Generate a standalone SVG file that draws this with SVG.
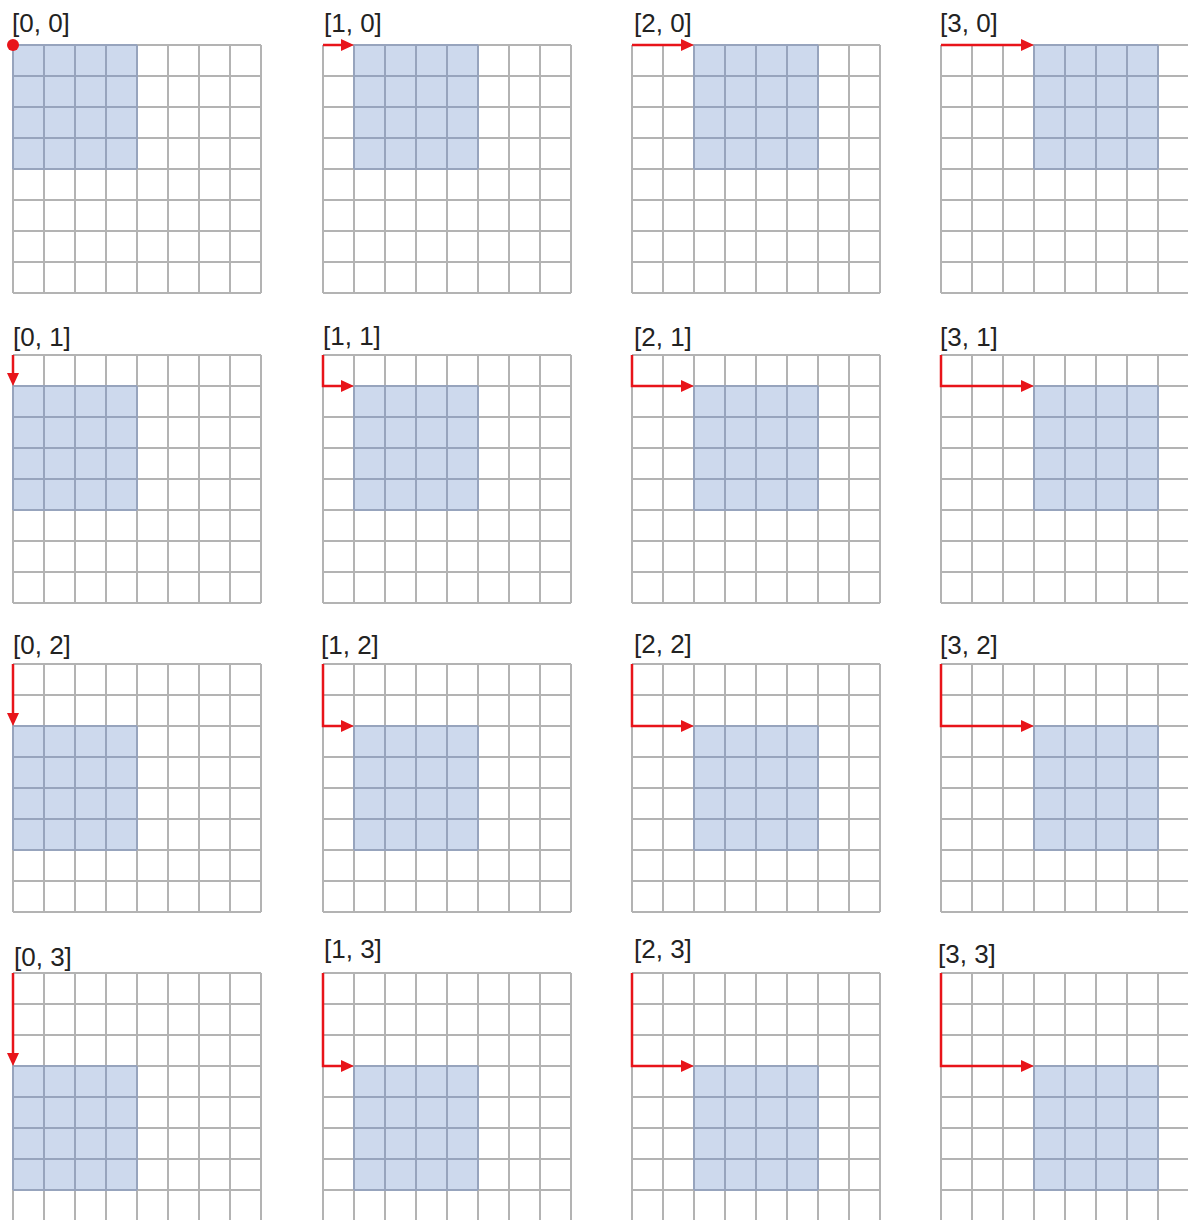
<svg xmlns="http://www.w3.org/2000/svg" xmlns:xlink="http://www.w3.org/1999/xlink" width="1188" height="1220" viewBox="0 0 1188 1220">
<style>
.grid{fill:none;stroke:#b3b3b3;stroke-width:2}
.bfill{fill:#cdd9ed}
.blines{fill:none;stroke:#97a4bd;stroke-width:2}
.lbl{font-family:"Liberation Sans",Arial,sans-serif;font-size:26px;fill:#222}
.arr{fill:none;stroke:#e8141a;stroke-width:2.5;marker-end:url(#ah)}
</style>
<defs>
<marker id="ah" markerUnits="userSpaceOnUse" markerWidth="13" markerHeight="12" refX="6" refY="6" orient="auto">
<path d="M0,0 L13,6 L0,12 z" fill="#e8141a"/>
</marker>
<path id="g" class="grid" d="M0 0H248M0 31H248M0 62H248M0 93H248M0 124H248M0 155H248M0 186H248M0 217H248M0 248H248M0 0V248M31 0V248M62 0V248M93 0V248M124 0V248M155 0V248M186 0V248M217 0V248M248 0V248"/>
<rect id="bf" class="bfill" x="0" y="0" width="124" height="124"/>
<path id="bl" class="blines" d="M0 0H124M0 31H124M0 62H124M0 93H124M0 124H124M0 0V124M31 0V124M62 0V124M93 0V124M124 0V124"/>
</defs>
<rect width="1188" height="1220" fill="#fff"/>

<g id="p00" transform="translate(13,45)"><use xlink:href="#bf" x="0" y="0"/><use xlink:href="#g"/><use xlink:href="#bl" x="0" y="0"/></g>
<g id="p10" transform="translate(323,45)"><use xlink:href="#bf" x="31" y="0"/><use xlink:href="#g"/><use xlink:href="#bl" x="31" y="0"/></g>
<g id="p20" transform="translate(632,45)"><use xlink:href="#bf" x="62" y="0"/><use xlink:href="#g"/><use xlink:href="#bl" x="62" y="0"/></g>
<g id="p30" transform="translate(941,45)"><use xlink:href="#bf" x="93" y="0"/><use xlink:href="#g"/><use xlink:href="#bl" x="93" y="0"/></g>

<g id="p01" transform="translate(13,355)"><use xlink:href="#bf" x="0" y="31"/><use xlink:href="#g"/><use xlink:href="#bl" x="0" y="31"/></g>
<g id="p11" transform="translate(323,355)"><use xlink:href="#bf" x="31" y="31"/><use xlink:href="#g"/><use xlink:href="#bl" x="31" y="31"/></g>
<g id="p21" transform="translate(632,355)"><use xlink:href="#bf" x="62" y="31"/><use xlink:href="#g"/><use xlink:href="#bl" x="62" y="31"/></g>
<g id="p31" transform="translate(941,355)"><use xlink:href="#bf" x="93" y="31"/><use xlink:href="#g"/><use xlink:href="#bl" x="93" y="31"/></g>

<g id="p02" transform="translate(13,664)"><use xlink:href="#bf" x="0" y="62"/><use xlink:href="#g"/><use xlink:href="#bl" x="0" y="62"/></g>
<g id="p12" transform="translate(323,664)"><use xlink:href="#bf" x="31" y="62"/><use xlink:href="#g"/><use xlink:href="#bl" x="31" y="62"/></g>
<g id="p22" transform="translate(632,664)"><use xlink:href="#bf" x="62" y="62"/><use xlink:href="#g"/><use xlink:href="#bl" x="62" y="62"/></g>
<g id="p32" transform="translate(941,664)"><use xlink:href="#bf" x="93" y="62"/><use xlink:href="#g"/><use xlink:href="#bl" x="93" y="62"/></g>

<g id="p03" transform="translate(13,973)"><use xlink:href="#bf" x="0" y="93"/><use xlink:href="#g"/><use xlink:href="#bl" x="0" y="93"/></g>
<g id="p13" transform="translate(323,973)"><use xlink:href="#bf" x="31" y="93"/><use xlink:href="#g"/><use xlink:href="#bl" x="31" y="93"/></g>
<g id="p23" transform="translate(632,973)"><use xlink:href="#bf" x="62" y="93"/><use xlink:href="#g"/><use xlink:href="#bl" x="62" y="93"/></g>
<g id="p33" transform="translate(941,973)"><use xlink:href="#bf" x="93" y="93"/><use xlink:href="#g"/><use xlink:href="#bl" x="93" y="93"/></g>

<g id="labels">
<text class="lbl" x="12" y="32">[0, 0]</text>
<text class="lbl" x="324" y="32">[1, 0]</text>
<text class="lbl" x="634" y="32">[2, 0]</text>
<text class="lbl" x="940" y="32">[3, 0]</text>
<text class="lbl" x="13" y="346">[0, 1]</text>
<text class="lbl" x="323" y="345">[1, 1]</text>
<text class="lbl" x="634" y="346">[2, 1]</text>
<text class="lbl" x="940" y="346">[3, 1]</text>
<text class="lbl" x="13" y="654">[0, 2]</text>
<text class="lbl" x="321" y="654">[1, 2]</text>
<text class="lbl" x="634" y="653">[2, 2]</text>
<text class="lbl" x="940" y="654">[3, 2]</text>
<text class="lbl" x="14" y="966">[0, 3]</text>
<text class="lbl" x="324" y="958">[1, 3]</text>
<text class="lbl" x="634" y="958">[2, 3]</text>
<text class="lbl" x="938" y="963">[3, 3]</text>
</g>

<g id="connectors">
<circle cx="13" cy="45" r="6" fill="#e8141a"/>
<polyline class="arr" points="323,45 347,45"/>
<polyline class="arr" points="632,45 687,45"/>
<polyline class="arr" points="941,45 1027,45"/>
<polyline class="arr" points="13,355 13,379"/>
<polyline class="arr" points="323,355 323,386 347,386"/>
<polyline class="arr" points="632,355 632,386 687,386"/>
<polyline class="arr" points="941,355 941,386 1027,386"/>
<polyline class="arr" points="13,664 13,719"/>
<polyline class="arr" points="323,664 323,726 347,726"/>
<polyline class="arr" points="632,664 632,726 687,726"/>
<polyline class="arr" points="941,664 941,726 1027,726"/>
<polyline class="arr" points="13,973 13,1059"/>
<polyline class="arr" points="323,973 323,1066 347,1066"/>
<polyline class="arr" points="632,973 632,1066 687,1066"/>
<polyline class="arr" points="941,973 941,1066 1027,1066"/>
</g>
</svg>
